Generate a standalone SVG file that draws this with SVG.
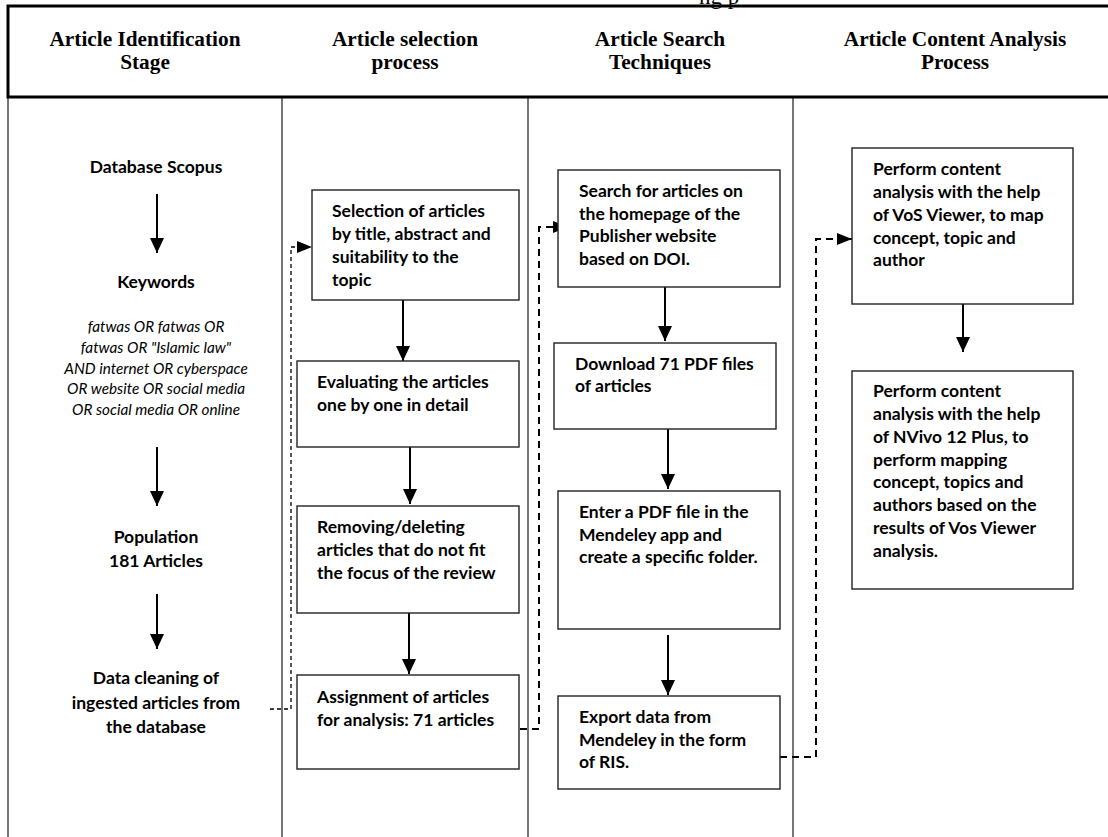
<svg xmlns="http://www.w3.org/2000/svg" width="1108" height="837" viewBox="0 0 1108 837">
<style>
.hd{font-family:"Liberation Serif","Times New Roman",serif;font-weight:bold;font-size:21.3px;fill:#000;text-anchor:middle}
.cap{font-family:"Liberation Serif","Times New Roman",serif;font-size:23px;fill:#000}
.t{font-family:Lato,"Noto Sans",sans-serif;font-weight:bold;font-size:17.5px;fill:#000}
.c{text-anchor:middle}
.it{font-family:Lato,"Noto Sans",sans-serif;font-style:italic;font-size:15.3px;fill:#000;text-anchor:middle}
.box{fill:#fff;stroke:#222;stroke-width:1.4}
.frame{stroke:#000;stroke-width:3;fill:none}
.col{stroke:#767676;stroke-width:2;fill:none}
.arr{stroke:#000;stroke-width:2;fill:none;marker-end:url(#ah)}
.d1{stroke:#000;stroke-width:1.3;fill:none;stroke-dasharray:4 3;marker-end:url(#ah2)}
.d2{stroke:#000;stroke-width:2;fill:none;stroke-dasharray:7 5;marker-end:url(#ah2)}
</style>
<defs>
<marker id="ah" viewBox="0 0 15 14" refX="15" refY="7" markerWidth="15" markerHeight="14" markerUnits="userSpaceOnUse" orient="auto"><path d="M0,0 L15,7 L0,14 z" fill="#000"/></marker>
<marker id="ah2" viewBox="0 0 15 12" refX="15" refY="6" markerWidth="15" markerHeight="12" markerUnits="userSpaceOnUse" orient="auto"><path d="M0,0 L15,6 L0,12 z" fill="#000"/></marker>
</defs>
<rect width="1108" height="837" fill="#fff"/>
<text class="cap" x="699" y="4">ng p</text>
<g id="frame">
<path class="col" d="M8,97 V837 M282,97 V837 M528,97 V837 M793,97 V837"/>
<path class="frame" d="M6.5,6 H1108 M8,6 V97 M6.5,97 H1108"/>
</g>
<g id="headers">
<text class="hd" x="145" y="46">Article Identification</text>
<text class="hd" x="145" y="69">Stage</text>
<text class="hd" x="405" y="46">Article selection</text>
<text class="hd" x="405" y="69">process</text>
<text class="hd" x="660" y="46">Article Search</text>
<text class="hd" x="660" y="69">Techniques</text>
<text class="hd" x="955" y="46">Article Content Analysis</text>
<text class="hd" x="955" y="69">Process</text>
</g>
<g id="connectors">
<line class="arr" x1="157" y1="194" x2="157" y2="253"/>
<line class="arr" x1="157" y1="447" x2="157" y2="506"/>
<line class="arr" x1="157" y1="594" x2="157" y2="649"/>
<line class="arr" x1="403" y1="300" x2="403" y2="361"/>
<line class="arr" x1="410" y1="447" x2="410" y2="504"/>
<line class="arr" x1="409" y1="613" x2="409" y2="674"/>
<line class="arr" x1="665" y1="287" x2="665" y2="341"/>
<line class="arr" x1="668" y1="429" x2="668" y2="489"/>
<line class="arr" x1="668" y1="635" x2="668" y2="695"/>
<line class="arr" x1="963" y1="304" x2="963" y2="352"/>
<path class="d1" d="M270,709 H291 V247 H312"/>
<path class="d2" d="M508,729 H539 V227 H568"/>
<path class="d2" d="M780,757 H816 V239 H852"/>
</g>
<g id="n-database">
<text class="t c" x="156" y="173">Database Scopus</text>
</g>
<g id="n-keywords">
<text class="t c" x="156" y="288">Keywords</text>
<text class="it" x="156" y="332">fatwas OR fatwas OR</text>
<text class="it" x="156" y="352.8">fatwas OR "Islamic law"</text>
<text class="it" x="156" y="373.6">AND internet OR cyberspace</text>
<text class="it" x="156" y="394.4">OR website OR social media</text>
<text class="it" x="156" y="415.2">OR social media OR online</text>
</g>
<g id="n-population">
<text class="t c" x="156" y="543">Population</text>
<text class="t c" x="156" y="567">181 Articles</text>
</g>
<g id="n-cleaning">
<text class="t c" x="156" y="684">Data cleaning of</text>
<text class="t c" x="156" y="709">ingested articles from</text>
<text class="t c" x="156" y="733">the database</text>
</g>
<g id="n-selection">
<rect class="box" x="312" y="190" width="207" height="110"/>
<text class="t" x="332" y="217">Selection of articles</text>
<text class="t" x="332" y="240">by title, abstract and</text>
<text class="t" x="332" y="263">suitability to the</text>
<text class="t" x="332" y="286">topic</text>
</g>
<g id="n-evaluating">
<rect class="box" x="297" y="361" width="222" height="86"/>
<text class="t" x="317" y="388">Evaluating the articles</text>
<text class="t" x="317" y="411">one by one in detail</text>
</g>
<g id="n-removing">
<rect class="box" x="297" y="506" width="222" height="107"/>
<text class="t" x="317" y="533">Removing/deleting</text>
<text class="t" x="317" y="556">articles that do not fit</text>
<text class="t" x="317" y="579">the focus of the review</text>
</g>
<g id="n-assignment">
<rect class="box" x="297" y="675" width="222" height="94"/>
<text class="t" x="317" y="703">Assignment of articles</text>
<text class="t" x="317" y="726">for analysis: 71 articles</text>
</g>
<g id="n-search">
<rect class="box" x="558" y="170" width="222" height="117"/>
<text class="t" x="579" y="197">Search for articles on</text>
<text class="t" x="579" y="220">the homepage of the</text>
<text class="t" x="579" y="242">Publisher website</text>
<text class="t" x="579" y="265">based on DOI.</text>
</g>
<g id="n-download">
<rect class="box" x="554" y="343" width="222" height="86"/>
<text class="t" x="575" y="370">Download 71 PDF files</text>
<text class="t" x="575" y="392">of articles</text>
</g>
<g id="n-enter">
<rect class="box" x="558" y="491" width="222" height="138"/>
<text class="t" x="579" y="518">Enter a PDF file in the</text>
<text class="t" x="579" y="541">Mendeley app and</text>
<text class="t" x="579" y="563">create a specific folder.</text>
</g>
<g id="n-export">
<rect class="box" x="558" y="696" width="222" height="93"/>
<text class="t" x="579" y="723">Export data from</text>
<text class="t" x="579" y="746">Mendeley in the form</text>
<text class="t" x="579" y="768">of RIS.</text>
</g>
<g id="n-vos">
<rect class="box" x="852" y="148" width="221" height="156"/>
<text class="t" x="873" y="175">Perform content</text>
<text class="t" x="873" y="198">analysis with the help</text>
<text class="t" x="873" y="221">of VoS Viewer, to map</text>
<text class="t" x="873" y="244">concept, topic and</text>
<text class="t" x="873" y="266">author</text>
</g>
<g id="n-nvivo">
<rect class="box" x="852" y="371" width="221" height="218"/>
<text class="t" x="873" y="397">Perform content</text>
<text class="t" x="873" y="420">analysis with the help</text>
<text class="t" x="873" y="443">of NVivo 12 Plus, to</text>
<text class="t" x="873" y="466">perform mapping</text>
<text class="t" x="873" y="488">concept, topics and</text>
<text class="t" x="873" y="511">authors based on the</text>
<text class="t" x="873" y="534">results of Vos Viewer</text>
<text class="t" x="873" y="557">analysis.</text>
</g>
</svg>
